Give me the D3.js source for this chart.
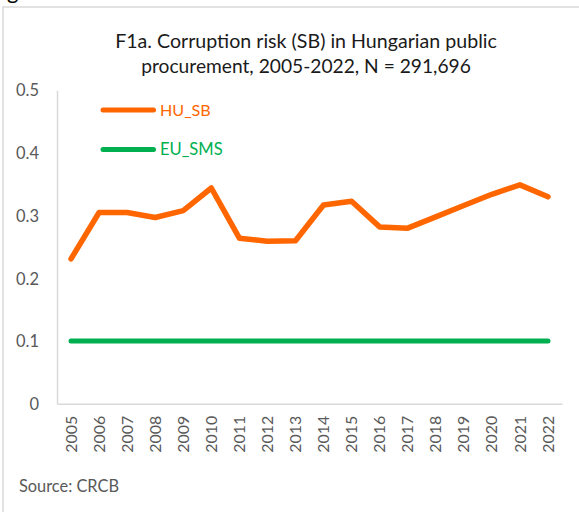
<!DOCTYPE html>
<html><head><meta charset="utf-8">
<script src="https://cdn.jsdelivr.net/npm/d3@7"></script>
<style>html,body{margin:0;padding:0;background:#fff;overflow:hidden}svg{display:block}</style>
</head><body>
<script>
const years = ["2005","2006","2007","2008","2009","2010","2011","2012","2013","2014","2015","2016","2017","2018","2019","2020","2021","2022"];
const huSB = [0.231,0.305,0.305,0.297,0.308,0.344,0.264,0.259,0.260,0.317,0.323,0.282,0.280,0.298,0.316,0.334,0.349,0.330];
const euSMS = [0.1,0.1,0.1,0.1,0.1,0.1,0.1,0.1,0.1,0.1,0.1,0.1,0.1,0.1,0.1,0.1,0.1,0.1];
const yTicks = [0,0.1,0.2,0.3,0.4,0.5];
const seriesNames = ["HU_SB","EU_SMS"];
const titleLines = ["F1a. Corruption risk (SB) in Hungarian public","procurement, 2005-2022, N = 291,696"];
const sourceText = "Source: CRCB";

const W = 579, H = 512;
const FONT = "Lato, 'Open Sans', sans-serif";
const ORANGE = "#ff6600", GREEN = "#00b050", AXIS = "#d9d9d9", TXT = "#595959";

const svg = d3.select("body").append("svg").attr("width", W).attr("height", H);

function fit(sel, target) {
  const n = sel.node();
  let fs = parseFloat(sel.attr("font-size"));
  const len = n.getComputedTextLength();
  if (len > 0) sel.attr("font-size", (fs * target / len).toFixed(2));
  return sel;
}

// cut-off heading fragment and frame
svg.append("text").attr("x", 7).attr("y", -1).attr("font-family", FONT).attr("font-size", 22).attr("fill", "#000").text("g");
svg.append("rect").attr("x", 3).attr("y", 7).attr("width", W + 10).attr("height", H + 10)
  .attr("fill", "none").attr("stroke", AXIS).attr("stroke-width", 1.5);

const x = d3.scaleBand().domain(years).range([57, 562]).padding(0);
const y = d3.scaleLinear().domain([0, 0.5]).range([403.7, 90.2]);
const cx = d => x(d) + x.bandwidth() / 2;

// title
titleLines.forEach((t, i) => {
  const s = svg.append("text").attr("x", 306).attr("y", 48 + i * 24.5).attr("text-anchor", "middle")
    .attr("font-family", FONT).attr("font-size", 18).attr("fill", "#1a1a1a").text(t);
  fit(s, i === 0 ? 382 : 330);
});

// y axis
const yAxis = svg.append("g").attr("transform", "translate(57,0)")
  .call(d3.axisLeft(y).tickValues(yTicks).tickSize(0).tickPadding(18).tickFormat(d => d === 0 ? "0" : d3.format(".1f")(d)));
yAxis.select(".domain").attr("stroke", AXIS).attr("stroke-width", 1.5);
yAxis.selectAll("text").attr("font-family", FONT).attr("font-size", 16).attr("fill", TXT).attr("dy", "0.35em");
const yl = yAxis.select(".tick:last-of-type text");
{ const len = yl.node().getComputedTextLength(); const f = 16 * 23 / len; yAxis.selectAll("text").attr("font-size", f.toFixed(2)); }

// x axis
const xAxis = svg.append("g").attr("transform", "translate(0,403.7)")
  .call(d3.axisBottom(x).tickSize(0).tickSizeOuter(0));
xAxis.select(".domain").attr("stroke", AXIS).attr("stroke-width", 1.5);
const xt = xAxis.selectAll("text").attr("font-family", FONT).attr("font-size", 16).attr("fill", TXT)
  .attr("transform", "rotate(-90)").attr("text-anchor", "end").attr("x", -12).attr("y", 0).attr("dy", "0.35em");
{ const len = xt.node().getComputedTextLength(); xt.attr("font-size", (16 * 37 / len).toFixed(2)); }

// lines
const line = d3.line().x((d, i) => cx(years[i])).y(d => y(d));
svg.append("path").datum(euSMS).attr("d", line).attr("fill", "none").attr("stroke", GREEN)
  .attr("stroke-width", 5).attr("stroke-linecap", "round").attr("stroke-linejoin", "round");
svg.append("path").datum(huSB).attr("d", line).attr("fill", "none").attr("stroke", ORANGE)
  .attr("stroke-width", 5.5).attr("stroke-linecap", "round").attr("stroke-linejoin", "round");

// legend
const legendY = [110, 149.5], legendCol = [ORANGE, GREEN], legendW = [50.7, 62.7];
seriesNames.forEach((n, i) => {
  svg.append("line").attr("x1", 103).attr("x2", 153.5).attr("y1", legendY[i]).attr("y2", legendY[i])
    .attr("stroke", legendCol[i]).attr("stroke-width", 5).attr("stroke-linecap", "round");
  const t = svg.append("text").attr("x", 160).attr("y", legendY[i]).attr("dy", "0.36em")
    .attr("font-family", FONT).attr("font-size", 16).attr("fill", legendCol[i]).text(n);
  fit(t, legendW[i]);
});

// source
fit(svg.append("text").attr("x", 19).attr("y", 491.7).attr("font-family", FONT).attr("font-size", 16)
  .attr("fill", TXT).text(sourceText), 100);
</script>
</body></html>
